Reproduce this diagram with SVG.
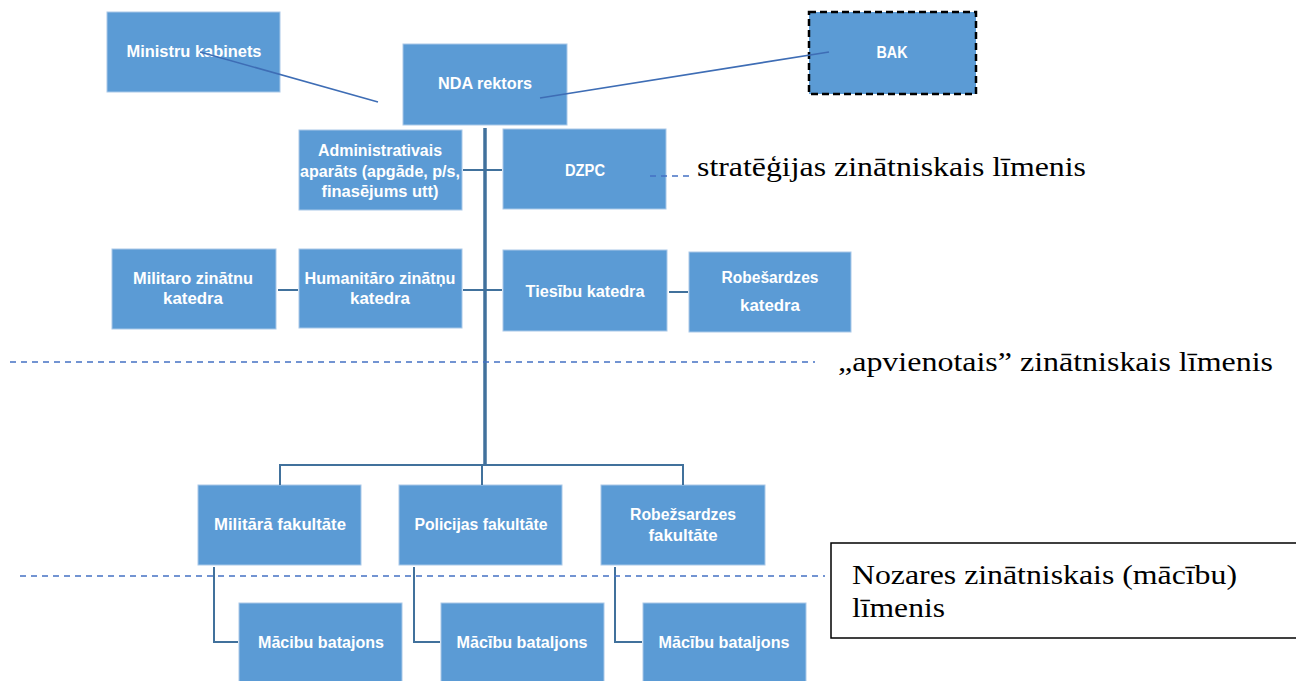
<svg xmlns="http://www.w3.org/2000/svg" width="1296" height="681" viewBox="0 0 1296 681">
<style>
.box{fill:#5B9BD5;stroke:#A9C8E8;stroke-width:1}
.t{font-family:"Liberation Sans",Arial,sans-serif;font-size:16px;font-weight:bold;fill:#FFFFFF;text-anchor:middle}
.c{stroke:#41719C;stroke-width:2;fill:none}
.ct{stroke:#41719C;stroke-width:3.5;fill:none}
.d{stroke:#4472C4;stroke-width:1.5;stroke-dasharray:6 5;fill:none}
.lab{font-family:"Liberation Serif","Times New Roman",serif;font-size:27px;fill:#000}
</style>
<rect width="1296" height="681" fill="#FFFFFF"/>
<g id="n-ministru"><rect class="box" x="107" y="12" width="173" height="80"/><text class="t" x="194" y="57" textLength="135" lengthAdjust="spacingAndGlyphs">Ministru kabinets</text></g>
<g id="n-nda"><rect class="box" x="403" y="44" width="164" height="81"/><text class="t" x="485" y="89" textLength="94" lengthAdjust="spacingAndGlyphs">NDA rektors</text></g>
<g id="n-bak"><rect x="809" y="12" width="167" height="82" fill="#5B9BD5" stroke="#000" stroke-width="2.5" stroke-dasharray="7 4"/><text class="t" x="892" y="58" textLength="31" lengthAdjust="spacingAndGlyphs">BAK</text></g>
<g id="n-admin"><rect class="box" x="299" y="130" width="163" height="80"/><text class="t" x="380" y="156" textLength="124" lengthAdjust="spacingAndGlyphs">Administrativais</text><text class="t" x="380" y="177" textLength="160" lengthAdjust="spacingAndGlyphs">aparāts (apgāde, p/s,</text><text class="t" x="380" y="197" textLength="117" lengthAdjust="spacingAndGlyphs">finasējums utt)</text></g>
<g id="n-dzpc"><rect class="box" x="503" y="129" width="163" height="80"/><text class="t" x="585" y="176" textLength="40" lengthAdjust="spacingAndGlyphs">DZPC</text></g>
<g id="n-militaro"><rect class="box" x="112" y="249" width="164" height="80"/><text class="t" x="193" y="284" textLength="120" lengthAdjust="spacingAndGlyphs">Militaro zinātnu</text><text class="t" x="193" y="304" textLength="60" lengthAdjust="spacingAndGlyphs">katedra</text></g>
<g id="n-humanitaro"><rect class="box" x="299" y="249" width="163" height="79"/><text class="t" x="380" y="284" textLength="151" lengthAdjust="spacingAndGlyphs">Humanitāro zinātņu</text><text class="t" x="380" y="304" textLength="60" lengthAdjust="spacingAndGlyphs">katedra</text></g>
<g id="n-tiesibu"><rect class="box" x="503" y="250" width="164" height="81"/><text class="t" x="585" y="297" textLength="119" lengthAdjust="spacingAndGlyphs">Tiesību katedra</text></g>
<g id="n-robesardzes-k"><rect class="box" x="689" y="252" width="162" height="80"/><text class="t" x="770" y="283" textLength="97" lengthAdjust="spacingAndGlyphs">Robešardzes</text><text class="t" x="770" y="311" textLength="60" lengthAdjust="spacingAndGlyphs">katedra</text></g>
<g id="n-milfak"><rect class="box" x="198" y="485" width="163" height="80"/><text class="t" x="280" y="530" textLength="132" lengthAdjust="spacingAndGlyphs">Militārā fakultāte</text></g>
<g id="n-polfak"><rect class="box" x="399" y="485" width="163" height="80"/><text class="t" x="481" y="530" textLength="133" lengthAdjust="spacingAndGlyphs">Policijas fakultāte</text></g>
<g id="n-robfak"><rect class="box" x="601" y="485" width="164" height="80"/><text class="t" x="683" y="520" textLength="106" lengthAdjust="spacingAndGlyphs">Robežsardzes</text><text class="t" x="683" y="541" textLength="69" lengthAdjust="spacingAndGlyphs">fakultāte</text></g>
<g id="n-bat1"><rect class="box" x="239" y="603" width="163" height="80"/><text class="t" x="321" y="648" textLength="126" lengthAdjust="spacingAndGlyphs">Mācibu batajons</text></g>
<g id="n-bat2"><rect class="box" x="441" y="603" width="163" height="80"/><text class="t" x="522" y="648" textLength="131" lengthAdjust="spacingAndGlyphs">Mācību bataljons</text></g>
<g id="n-bat3"><rect class="box" x="643" y="603" width="163" height="80"/><text class="t" x="724" y="648" textLength="131" lengthAdjust="spacingAndGlyphs">Mācību bataljons</text></g>
<g id="connectors">
<line class="ct" x1="485" y1="128" x2="485" y2="466"/>
<polyline class="c" points="280,485 280,465 683,465 683,485"/>
<line class="c" x1="482" y1="465" x2="482" y2="485"/>
<line class="c" x1="463" y1="170" x2="502" y2="170"/>
<line class="c" x1="463" y1="290" x2="502" y2="290"/>
<line class="c" x1="278" y1="290" x2="298" y2="290"/>
<line class="c" x1="669" y1="292" x2="688" y2="292"/>
<polyline class="c" points="214,567 214,642 238,642"/>
<polyline class="c" points="414,567 414,642 440,642"/>
<polyline class="c" points="615,567 615,642 642,642"/>
<line stroke="#3E6DB5" stroke-width="1.6" x1="200" y1="52" x2="378" y2="102"/>
<line stroke="#3E6DB5" stroke-width="1.6" x1="540" y1="98" x2="829" y2="52"/>
<line class="d" x1="10" y1="362" x2="815" y2="362"/>
<line class="d" x1="20" y1="576" x2="825" y2="576"/>
<line class="d" x1="650" y1="176" x2="693" y2="176"/>
</g>
<g id="labels">
<text class="lab" x="697" y="176" textLength="389" lengthAdjust="spacingAndGlyphs">stratēģijas zinātniskais līmenis</text>
<text class="lab" x="838" y="371" textLength="435" lengthAdjust="spacingAndGlyphs">„apvienotais” zinātniskais līmenis</text>
<g id="n-nozares"><rect x="831" y="543" width="470" height="95" fill="#FFFFFF" stroke="#000" stroke-width="1.5"/>
<text class="lab" x="852" y="584" textLength="385" lengthAdjust="spacingAndGlyphs">Nozares zinātniskais (mācību)</text>
<text class="lab" x="852" y="617" textLength="93" lengthAdjust="spacingAndGlyphs">līmenis</text></g>
</g>
</svg>
